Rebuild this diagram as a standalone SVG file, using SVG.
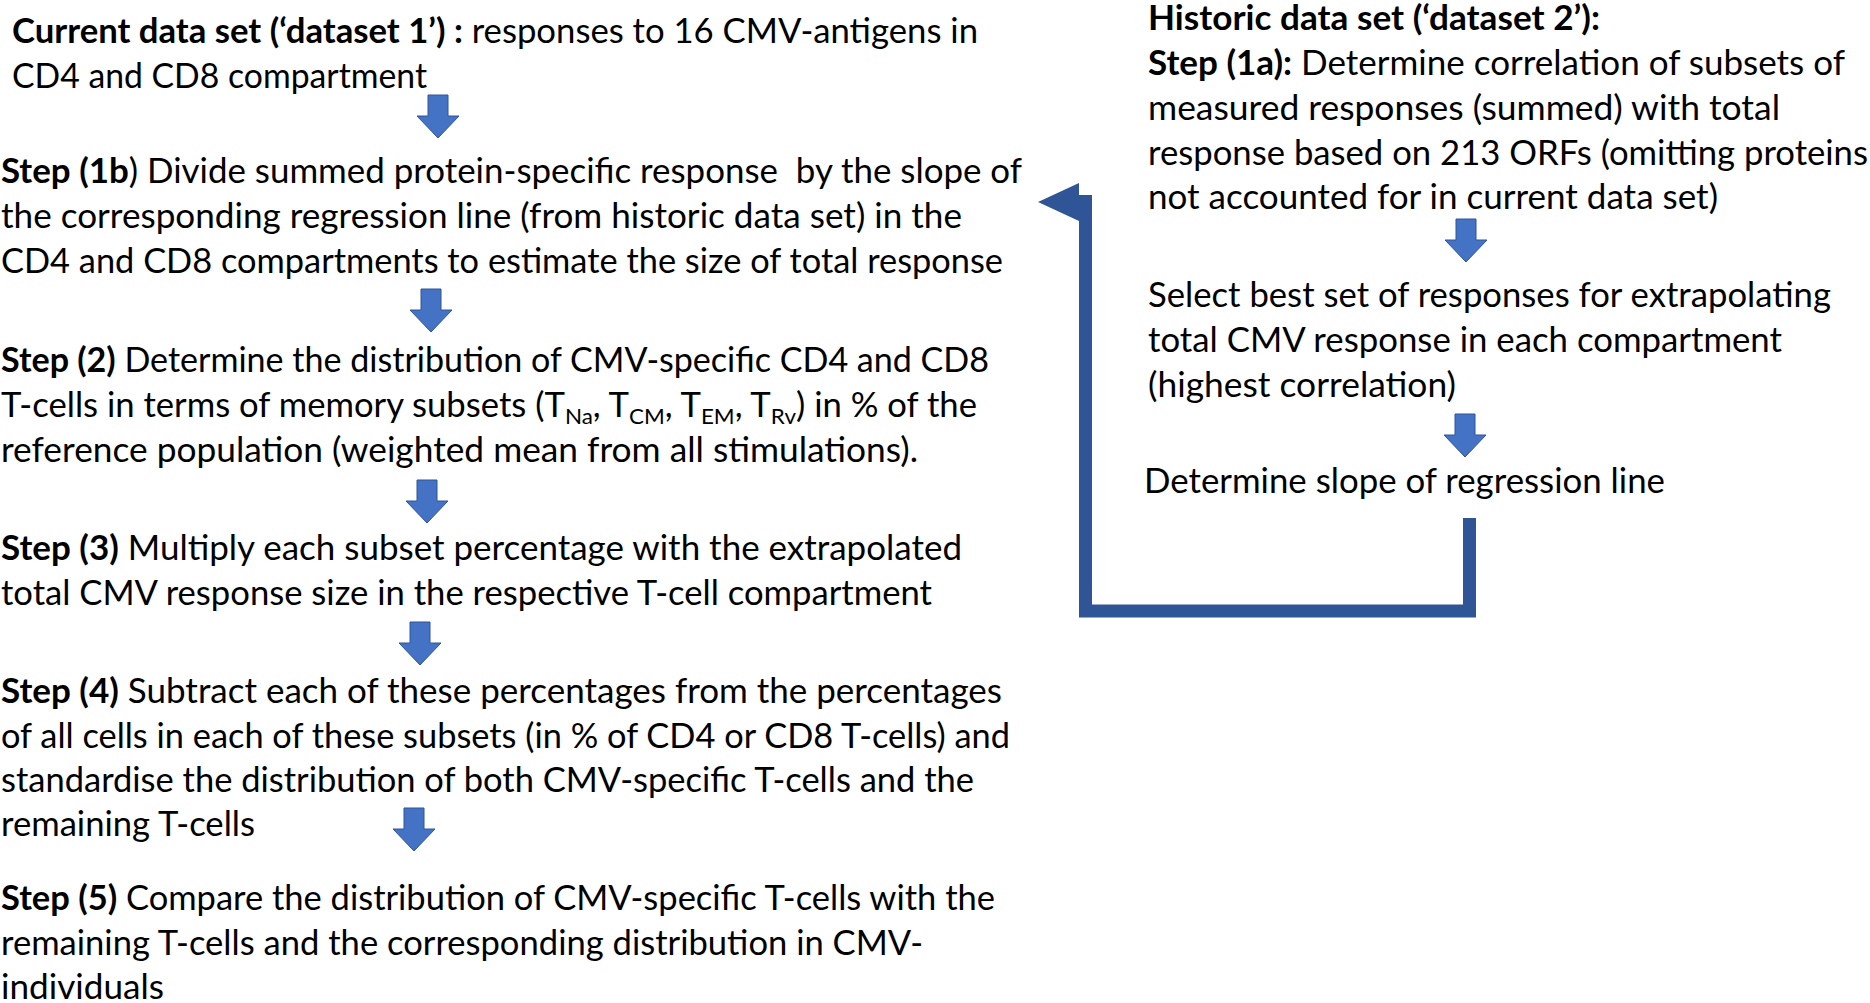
<svg xmlns="http://www.w3.org/2000/svg" xmlns:xlink="http://www.w3.org/1999/xlink" width="1870" height="1003" viewBox="0 0 1870 1003">
<style>
text{font-family:Lato,"Open Sans","Liberation Sans",sans-serif;font-size:34px;fill:#000;}
.b{font-weight:bold;}
.sub{font-size:22px;}
.blk{fill:#4472C4;stroke:#2F5597;stroke-width:1;}
.bent{fill:none;stroke:#2F5597;stroke-width:13;stroke-linejoin:miter;}
.head{fill:#2F5597;}
</style>
<defs>
<path id="blk" d="M-10,0 H10 V21 H21 L0,43 L-21,21 H-10 Z"/>
</defs>
<rect width="1870" height="1003" fill="#fff"/>

<g id="current">
<text x="12" y="43" textLength="966" lengthAdjust="spacingAndGlyphs"><tspan class="b">Current data set (‘dataset 1’) :</tspan> responses to 16 CMV-antigens in</text>
<text x="12" y="88" textLength="415" lengthAdjust="spacingAndGlyphs">CD4 and CD8 compartment</text>
</g>

<g id="step1b">
<text x="1" y="183" textLength="1021" lengthAdjust="spacingAndGlyphs" style="white-space:pre"><tspan class="b">Step (1b</tspan>) Divide summed protein-specific response  by the slope of</text>
<text x="1" y="228" textLength="961" lengthAdjust="spacingAndGlyphs">the corresponding regression line (from historic data set) in the</text>
<text x="1" y="273" textLength="1002" lengthAdjust="spacingAndGlyphs">CD4 and CD8 compartments to estimate the size of total response</text>
</g>

<g id="step2">
<text x="1" y="372" textLength="988" lengthAdjust="spacingAndGlyphs"><tspan class="b">Step (2)</tspan> Determine the distribution of CMV-specific CD4 and CD8</text>
<text x="1" y="417" textLength="976" lengthAdjust="spacingAndGlyphs">T-cells in terms of memory subsets (T<tspan class="sub" dy="7">Na</tspan><tspan dy="-7">, T</tspan><tspan class="sub" dy="7">CM</tspan><tspan dy="-7">, T</tspan><tspan class="sub" dy="7">EM</tspan><tspan dy="-7">, T</tspan><tspan class="sub" dy="7">Rv</tspan><tspan dy="-7">) in % of the</tspan></text>
<text x="1" y="462" textLength="917" lengthAdjust="spacingAndGlyphs">reference population (weighted mean from all stimulations).</text>
</g>

<g id="step3">
<text x="1" y="560" textLength="961" lengthAdjust="spacingAndGlyphs"><tspan class="b">Step (3)</tspan> Multiply each subset percentage with the extrapolated</text>
<text x="1" y="605" textLength="931" lengthAdjust="spacingAndGlyphs">total CMV response size in the respective T-cell compartment</text>
</g>

<g id="step4">
<text x="1" y="703" textLength="1001" lengthAdjust="spacingAndGlyphs"><tspan class="b">Step (4)</tspan> Subtract each of these percentages from the percentages</text>
<text x="1" y="748" textLength="1009" lengthAdjust="spacingAndGlyphs">of all cells in each of these subsets (in % of CD4 or CD8 T-cells) and</text>
<text x="1" y="792" textLength="973" lengthAdjust="spacingAndGlyphs">standardise the distribution of both CMV-specific T-cells and the</text>
<text x="1" y="836" textLength="254" lengthAdjust="spacingAndGlyphs">remaining T-cells</text>
</g>

<g id="step5">
<text x="1" y="910" textLength="994" lengthAdjust="spacingAndGlyphs"><tspan class="b">Step (5)</tspan> Compare the distribution of CMV-specific T-cells with the</text>
<text x="1" y="955" textLength="922" lengthAdjust="spacingAndGlyphs">remaining T-cells and the corresponding distribution in CMV-</text>
<text x="1" y="999" textLength="163" lengthAdjust="spacingAndGlyphs">individuals</text>
</g>

<g id="historic">
<text x="1148" y="30" textLength="452" lengthAdjust="spacingAndGlyphs" class="b">Historic data set (‘dataset 2’):</text>
<text x="1148" y="75" textLength="697" lengthAdjust="spacingAndGlyphs"><tspan class="b">Step (1a):</tspan> Determine correlation of subsets of</text>
<text x="1148" y="120" textLength="632" lengthAdjust="spacingAndGlyphs">measured responses (summed) with total</text>
<text x="1148" y="165" textLength="720" lengthAdjust="spacingAndGlyphs">response based on 213 ORFs (omitting proteins</text>
<text x="1148" y="209" textLength="570" lengthAdjust="spacingAndGlyphs">not accounted for in current data set)</text>
</g>

<g id="select">
<text x="1148" y="307" textLength="683" lengthAdjust="spacingAndGlyphs">Select best set of responses for extrapolating</text>
<text x="1148" y="352" textLength="634" lengthAdjust="spacingAndGlyphs">total CMV response in each compartment</text>
<text x="1148" y="397" textLength="308" lengthAdjust="spacingAndGlyphs">(highest correlation)</text>
</g>

<g id="slope">
<text x="1144" y="493" textLength="521" lengthAdjust="spacingAndGlyphs">Determine slope of regression line</text>
</g>

<g id="connectors">
<use xlink:href="#blk" href="#blk" class="blk" x="438" y="95"/>
<use xlink:href="#blk" href="#blk" class="blk" x="431" y="289"/>
<use xlink:href="#blk" href="#blk" class="blk" x="427" y="480"/>
<use xlink:href="#blk" href="#blk" class="blk" x="420" y="622"/>
<use xlink:href="#blk" href="#blk" class="blk" x="414" y="808"/>
<use xlink:href="#blk" href="#blk" class="blk" x="1466" y="219"/>
<use xlink:href="#blk" href="#blk" class="blk" x="1465" y="414"/>
<path class="bent" d="M1469.5,518 V611 H1085.5 V201.5 H1078"/>
<polygon class="head" points="1079,183 1038,202 1079,221"/>
</g>
</svg>
